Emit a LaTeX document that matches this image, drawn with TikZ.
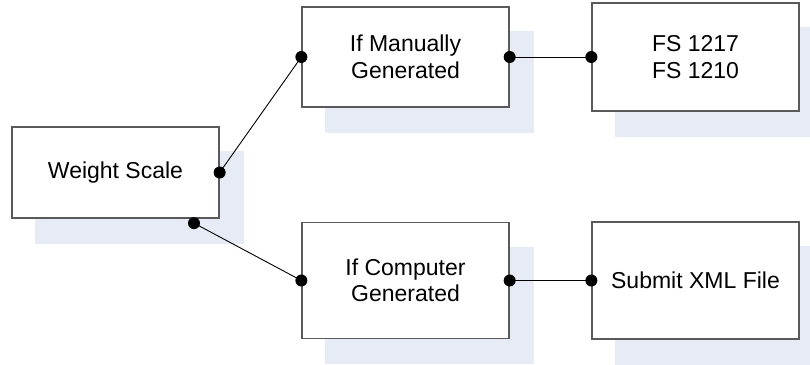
\documentclass[tikz,border=0pt]{standalone}
\usepackage{fontspec}
\setmainfont{Liberation Sans}
\usetikzlibrary{backgrounds}
\definecolor{shadowc}{RGB}{230,235,245}
\definecolor{boxline}{RGB}{90,90,90}
\begin{document}
\begin{tikzpicture}[x=1pt,y=-1pt,
  box/.style={draw=boxline,line width=1.3pt,fill=white,inner sep=0pt,
    minimum width=207pt,align=center,font=\fontsize{23}{26.5}\selectfont},
  conn/.style={draw=black,line width=0.9pt},
  dot/.style={fill=black}]
\useasboundingbox (0,0) rectangle (810,364);
\clip (0,0) rectangle (810,364);
\node[box,minimum height=91pt]  (ws)  at (115.5,172.5) {Weight Scale};
\node[box,minimum height=100pt] (man) at (405.5,57) {If Manually\\Generated};
\node[box,minimum height=108pt] (fs)  at (695.5,57) {FS 1217\\FS 1210};
\node[box,minimum height=116pt] (comp) at (405.5,280.5) {If Computer\\Generated};
\node[box,minimum height=117pt] (sub) at (695.5,280.5) {Submit XML File};
\begin{scope}[on background layer]
  \foreach \n in {ws,man,fs,comp,sub}
    \fill[shadowc] ([shift={(24,25)}]\n.north west) rectangle ([shift={(24,25)}]\n.south east);
\end{scope}
\coordinate (wsb) at ([shift={(78.5,4.5)}]ws.south);
\draw[conn] (ws.east) -- (man.west);
\draw[conn] (wsb) -- (comp.west);
\draw[conn] (man.east) -- (fs.west);
\draw[conn] (comp.east) -- (sub.west);
\foreach \p in {ws.east,wsb,man.west,man.east,fs.west,comp.west,comp.east,sub.west}
  \fill[dot] (\p) circle (6);
\end{tikzpicture}
\end{document}
